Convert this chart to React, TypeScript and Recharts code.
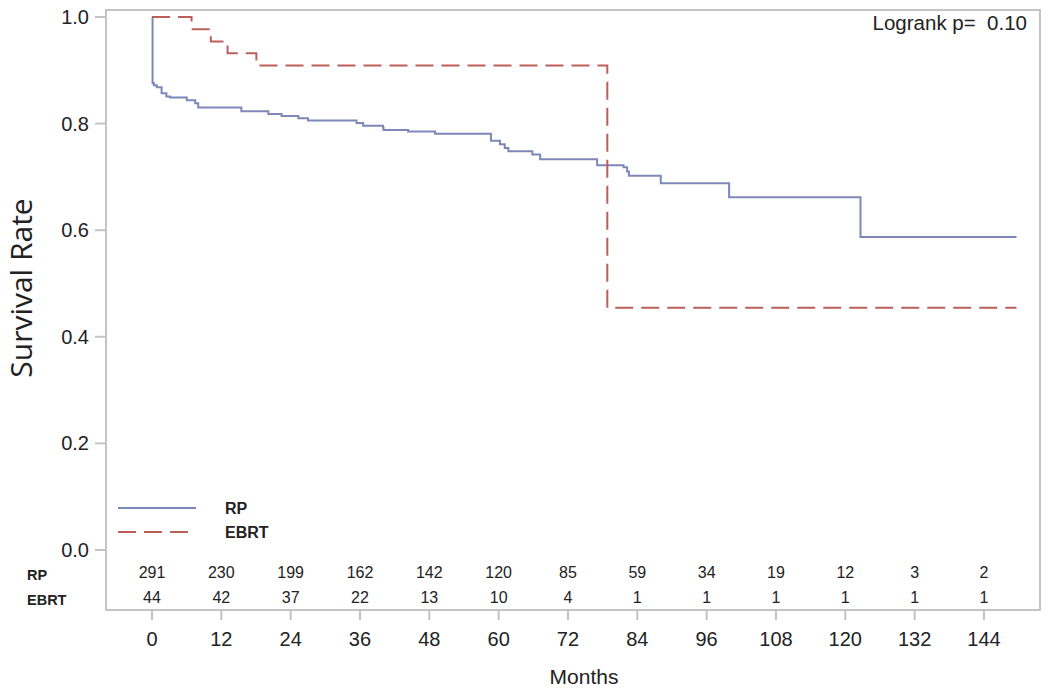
import React from 'react';
import { ComposedChart, Line, Scatter, XAxis, YAxis, ReferenceArea, Legend } from 'recharts';

// Kaplan-Meier steps (months, survival)
const rpMonths = [0, 0.1, 0.31, 0.83, 1.66, 2.49, 3.12, 6.02, 7.48, 8.0, 15.47, 20.14, 22.43, 25.34, 27.0, 35.41, 36.55, 39.98, 40.08, 44.34, 49.01, 58.67, 60.23, 61.06, 61.68, 65.83, 67.18, 77.05, 81.62, 82.24, 82.55, 88.06, 99.89, 122.63, 149.63];
const rpSurvival = [1.0, 0.876, 0.872, 0.868, 0.857, 0.851, 0.849, 0.844, 0.838, 0.83, 0.823, 0.818, 0.814, 0.81, 0.806, 0.801, 0.796, 0.792, 0.788, 0.785, 0.781, 0.768, 0.761, 0.754, 0.748, 0.742, 0.733, 0.722, 0.718, 0.71, 0.702, 0.688, 0.662, 0.587, 0.587];

const ebrtMonths = [0, 6.85, 10.18, 13.08, 18.07, 78.81, 149.63];
const ebrtSurvival = [1.0, 0.977, 0.954, 0.932, 0.909, 0.4545, 0.4545];

// numbers at risk
const monthTicks = [0, 12, 24, 36, 48, 60, 72, 84, 96, 108, 120, 132, 144];
const rpAtRisk = [291, 230, 199, 162, 142, 120, 85, 59, 34, 19, 12, 3, 2];
const ebrtAtRisk = [44, 42, 37, 22, 13, 10, 4, 1, 1, 1, 1, 1, 1];

const survivalTicks = [0, 0.2, 0.4, 0.6, 0.8, 1.0];
const groupNames = ['RP', 'EBRT'];

const X_MIN = -7.96;
const X_MAX = 153.7;
const Y_MIN = -0.1126;
const Y_MAX = 1.0131;
const RP_ROW = -0.043;
const EBRT_ROW = -0.09;

const BLUE = '#7d88b9';
const RED = '#bb5f58';
const FRAME = '#c4c4c4';
const TEXT = '#222';
const DASH = '18 8';

const rpData = rpMonths.map((m, i) => ({ m, s: rpSurvival[i] }));
const ebrtData = ebrtMonths.map((m, i) => ({ m, s: ebrtSurvival[i] }));
const riskData = [
  ...monthTicks.map((m, i) => ({ m, y: RP_ROW, n: rpAtRisk[i] })),
  ...monthTicks.map((m, i) => ({ m, y: EBRT_ROW, n: ebrtAtRisk[i] })),
];

const sans = "'Liberation Sans', Arial, sans-serif";

const SurvivalTick = (props: any) => {
  const { x, y, payload } = props;
  const v = payload.value;
  if (v < 0) {
    return (
      <text x={27} y={y} dy={7} fontFamily={sans} fontSize={14.5} fontWeight="bold" fill={TEXT}>
        {v === RP_ROW ? groupNames[0] : groupNames[1]}
      </text>
    );
  }
  return (
    <g>
      <line x1={x - 11} x2={x} y1={y} y2={y} stroke={FRAME} strokeWidth={2} />
      <text x={x - 17} y={y} dy={7} textAnchor="end" fontFamily={sans} fontSize={20} fill={TEXT}>
        {v.toFixed(1)}
      </text>
    </g>
  );
};

const AtRiskCell = (props: any) => (
  <text x={props.cx} y={props.cy} dy={5.5} textAnchor="middle" fontFamily={sans} fontSize={16} fill={TEXT}>
    {props.payload.n}
  </text>
);

const KmLegend = (props: any) => {
  const items = (props.payload || [])
    .filter((p: any) => groupNames.includes(p.value))
    .sort((a: any, b: any) => groupNames.indexOf(a.value) - groupNames.indexOf(b.value));
  return (
    <svg width={190} height={50}>
      {items.map((p: any, i: number) => (
        <g key={p.value}>
          <line x1={2} x2={80} y1={12 + i * 24} y2={12 + i * 24} stroke={p.color} strokeWidth={2}
            strokeDasharray={p.payload.strokeDasharray} />
          <text x={109} y={18 + i * 24} fontFamily={sans} fontSize={16} fontWeight="bold" fill={TEXT}>{p.value}</text>
        </g>
      ))}
    </svg>
  );
};

export default function App() {
  return (
    <div style={{ position: 'absolute', left: 0, top: 0, background: '#fff' }}>
      <ComposedChart width={1050} height={693} margin={{ top: 10, right: 10, left: 0, bottom: 0 }}>
        <XAxis dataKey="m" type="number" domain={[X_MIN, X_MAX]} ticks={monthTicks} allowDataOverflow interval={0}
          axisLine={false} tickSize={10} tickMargin={12} tickLine={{ stroke: FRAME, strokeWidth: 2 }}
          tick={{ fontFamily: sans, fontSize: 20, fill: TEXT }} height={83}
          label={{ value: 'Months', position: 'insideBottom', offset: 9, dx: 11, style: { fontFamily: sans, fontSize: 21, fill: TEXT } }} />
        <YAxis type="number" domain={[Y_MIN, Y_MAX]} ticks={[EBRT_ROW, RP_ROW, ...survivalTicks]} allowDataOverflow
          interval={0} width={106} axisLine={false} tickLine={false} tickSize={0} tickMargin={0} tick={<SurvivalTick />}
          label={{
            content: () => (
              <text transform="translate(20,288) rotate(-90)" textAnchor="middle" dominantBaseline="central"
                fontFamily="'Open Sans', sans-serif" fontSize={30} fill={TEXT}>Survival Rate</text>
            ),
          }} />
        <ReferenceArea x1={X_MIN} x2={X_MAX} y1={Y_MIN} y2={Y_MAX} fill="none" stroke={FRAME} strokeWidth={2}
          fillOpacity={0} ifOverflow="visible"
          label={{ value: 'Logrank p=\u00A0 0.10', position: 'insideTopRight', offset: 5, dx: -8, style: { fontFamily: sans, fontSize: 20.5, fill: TEXT } }} />
        <Legend layout="horizontal" verticalAlign="middle" align="center" content={<KmLegend />}
          wrapperStyle={{ left: 116, top: 496, width: 190, height: 50 }} />
        <Line data={rpData} dataKey="s" name="RP" type="stepAfter" stroke={BLUE} strokeWidth={2}
          dot={false} activeDot={false} isAnimationActive={false} />
        <Line data={ebrtData} dataKey="s" name="EBRT" type="stepAfter" stroke={RED} strokeWidth={2}
          strokeDasharray={DASH} dot={false} activeDot={false} isAnimationActive={false} />
        <Scatter data={riskData} dataKey="y" legendType="none" shape={<AtRiskCell />} isAnimationActive={false} />
      </ComposedChart>
    </div>
  );
}
